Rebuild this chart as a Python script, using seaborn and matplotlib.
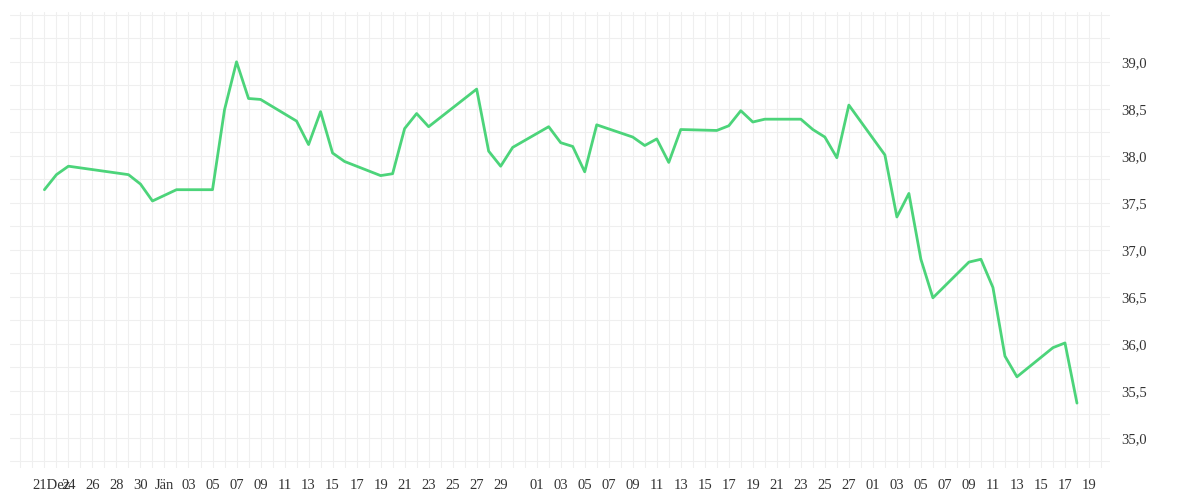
import pandas as pd
import numpy as np
import matplotlib
matplotlib.use("Agg")
import matplotlib.pyplot as plt
import matplotlib.dates as mdates
import matplotlib.transforms as mtransforms
import seaborn as sns

# days offset from 21 Dec 2022 and closing values
day_offsets = [1, 2, 3, 8, 9, 10, 12, 15, 16, 17, 18, 19, 22, 23, 24, 25, 26, 29, 30, 31,
               32, 33, 37, 38, 39, 40, 43, 44, 45, 46, 47, 50, 51, 52, 53, 54, 57, 58, 59, 60,
               61, 64, 65, 66, 67, 68, 71, 72, 73, 74, 75, 78, 79, 80, 81, 82, 85, 86, 87]
values = [37.64, 37.80, 37.89, 37.80, 37.70, 37.52, 37.64, 37.64, 38.49, 39.00, 38.61, 38.60,
          38.37, 38.12, 38.47, 38.03, 37.94, 37.79, 37.81, 38.29, 38.45, 38.31, 38.71, 38.05,
          37.89, 38.09, 38.31, 38.14, 38.10, 37.83, 38.33, 38.20, 38.11, 38.18, 37.93, 38.28,
          38.27, 38.32, 38.48, 38.36, 38.39, 38.39, 38.28, 38.20, 37.98, 38.54, 38.01, 37.35,
          37.60, 36.90, 36.49, 36.87, 36.90, 36.60, 35.87, 35.65, 35.96, 36.01, 35.37]

start = pd.Timestamp("2022-12-21")
df = pd.DataFrame({"date": [start + pd.Timedelta(days=d) for d in day_offsets], "value": values})

# tick labels
tick_dates = [pd.Timestamp("2022-12-21")] + [pd.Timestamp(f"2022-12-{d}") for d in (24, 26, 28, 30)]
tick_dates += [pd.Timestamp("2023-01-01")] + [pd.Timestamp(f"2023-01-{d:02d}") for d in range(3, 30, 2)]
tick_dates += [pd.Timestamp(f"2023-02-{d:02d}") for d in range(1, 28, 2)]
tick_dates += [pd.Timestamp(f"2023-03-{d:02d}") for d in range(1, 20, 2)]
tick_labels = []
for t in tick_dates:
    if t == pd.Timestamp("2022-12-21"):
        tick_labels.append("21Dez")
    elif t == pd.Timestamp("2023-01-01"):
        tick_labels.append("Jän")
    else:
        tick_labels.append(f"{t.day:02d}")

sns.set_style("white")
plt.rcParams["font.family"] = ["Liberation Serif", "DejaVu Serif"]

fig = plt.figure(figsize=(12, 5), dpi=100)
ax = fig.add_axes([0.008, 0.064, 0.917, 0.912])
sns.lineplot(data=df, x="date", y="value", color="#4cd47a", linewidth=2, ax=ax)

ax.set_xlim(start - pd.Timedelta(days=1.9), start + pd.Timedelta(days=89.75))
ax.set_ylim(34.68, 39.53)

# daily vertical grid and quarter horizontal grid
ax.xaxis.set_minor_locator(mdates.DayLocator())
yt = np.arange(35.0, 39.01, 0.5)
ax.set_yticks(yt)
ax.set_yticks(np.arange(34.75, 39.51, 0.25), minor=True)
ax.grid(which="both", color="#efefef", linewidth=0.8)
ax.set_axisbelow(True)

ax.set_xticks(tick_dates)
ax.set_xticklabels(tick_labels, fontsize=10.5, color="#333333")
first = ax.get_xticklabels()[0]
first.set_horizontalalignment("left")
first.set_transform(first.get_transform() + mtransforms.ScaledTranslation(-0.25, 0, fig.dpi_scale_trans))
ax.yaxis.tick_right()
ax.set_yticklabels([f"{v:.1f}".replace(".", ",") for v in yt], fontsize=10.5, color="#333333")
ax.tick_params(which="both", length=0, pad=8)
ax.set_xlabel("")
ax.set_ylabel("")
for s in ax.spines.values():
    s.set_visible(False)

fig.savefig("out.png", dpi=100)
